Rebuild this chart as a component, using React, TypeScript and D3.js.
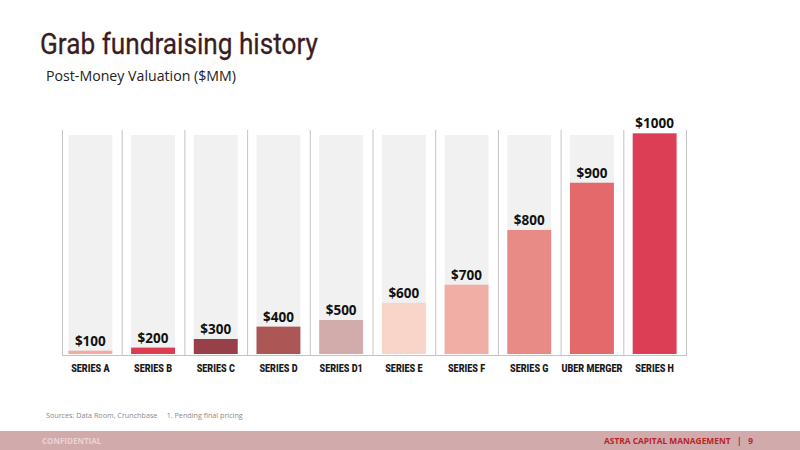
import React, { useRef, useEffect } from 'react';
import * as d3 from 'd3';

// categories and values
const categories = ['SERIES A', 'SERIES B', 'SERIES C', 'SERIES D', 'SERIES D1', 'SERIES E', 'SERIES F', 'SERIES G', 'UBER MERGER', 'SERIES H'];
const valuations = [15, 29, 68, 124, 154, 232, 314, 562, 776, 1000];
const valueLabels = ['$100', '$200', '$300', '$400', '$500', '$600', '$700', '$800', '$900', '$1000'];
const barColors = ['#f2aca3', '#dc3d50', '#98404a', '#ad5656', '#d2abab', '#f8d4c9', '#f1aea4', '#e88a85', '#e3696b', '#dc3f55'];
const trackValue = 992;

const W = 800;
const H = 450;

const App: React.FC = () => {
  const ref = useRef<SVGSVGElement | null>(null);

  useEffect(() => {
    if (!ref.current) return;
    const svg = d3.select(ref.current);
    svg.selectAll('*').remove();

    const x = d3.scaleBand<string>().domain(categories).range([59, 686]).paddingInner(0.3).paddingOuter(0.15);
    const y = d3.scaleLinear().domain([0, 1000]).range([354, 133.3]);
    const step = x.step();

    // title
    svg.append('text')
      .attr('x', 40).attr('y', 54)
      .attr('font-family', 'Roboto, sans-serif')
      .attr('font-size', 30)
      .attr('fill', '#3b1d1f')
      .attr('stroke', '#3b1d1f')
      .attr('stroke-width', 0.3)
      .attr('textLength', 278)
      .attr('lengthAdjust', 'spacingAndGlyphs')
      .text('Grab fundraising history');

    svg.append('text')
      .attr('x', 46).attr('y', 81)
      .attr('font-family', '"Open Sans", sans-serif')
      .attr('font-size', 14.5)
      .attr('fill', '#222')
      .attr('textLength', 190)
      .attr('lengthAdjust', 'spacingAndGlyphs')
      .text('Post-Money Valuation ($MM)');

    const g = svg.append('g');

    // separators
    g.selectAll('line.sep')
      .data(d3.range(categories.length + 1))
      .enter()
      .append('line')
      .attr('class', 'sep')
      .attr('x1', (i) => Math.max(62, 59 + i * step) + 0.5)
      .attr('x2', (i) => Math.max(62, 59 + i * step) + 0.5)
      .attr('y1', 130)
      .attr('y2', 356)
      .attr('stroke', '#c3c3c3')
      .attr('stroke-width', 1);

    // grey tracks
    g.selectAll('rect.track')
      .data(categories)
      .enter()
      .append('rect')
      .attr('class', 'track')
      .attr('x', (d) => x(d)!)
      .attr('width', x.bandwidth())
      .attr('y', y(trackValue))
      .attr('height', y(0) - y(trackValue))
      .attr('fill', '#f1f1f1');

    // bars
    g.selectAll('rect.bar')
      .data(valuations)
      .enter()
      .append('rect')
      .attr('class', 'bar')
      .attr('x', (_, i) => x(categories[i])!)
      .attr('width', x.bandwidth())
      .attr('y', (d) => y(d))
      .attr('height', (d) => y(0) - y(d))
      .attr('fill', (_, i) => barColors[i]);

    // baseline
    g.append('line')
      .attr('x1', 62).attr('x2', 686)
      .attr('y1', 355.5).attr('y2', 355.5)
      .attr('stroke', '#c3c3c3')
      .attr('stroke-width', 1);

    // value labels
    g.selectAll('text.val')
      .data(valuations)
      .enter()
      .append('text')
      .attr('class', 'val')
      .attr('x', (_, i) => x(categories[i])! + x.bandwidth() / 2)
      .attr('y', (d) => y(d) - 5)
      .attr('text-anchor', 'middle')
      .attr('font-family', '"Open Sans", sans-serif')
      .attr('font-weight', 700)
      .attr('font-size', 13.5)
      .attr('fill', '#111')
      .text((_, i) => valueLabels[i]);

    // category labels
    g.selectAll('text.cat')
      .data(categories)
      .enter()
      .append('text')
      .attr('class', 'cat')
      .attr('x', (d) => x(d)! + x.bandwidth() / 2)
      .attr('y', 372)
      .attr('text-anchor', 'middle')
      .attr('font-family', 'Roboto, sans-serif')
      .attr('font-weight', 900)
      .attr('font-size', 10.5)
      .attr('fill', '#1a1a1a')
      .attr('transform', (d) => {
        const cx = x(d)! + x.bandwidth() / 2;
        return `translate(${cx},0) scale(0.86,1) translate(${-cx},0)`;
      })
      .text((d) => d);

    // footnote
    svg.append('text')
      .attr('x', 46).attr('y', 418)
      .attr('font-family', '"Open Sans", sans-serif')
      .attr('font-size', 7.2)
      .attr('fill', '#8a8a8a')
      .style('white-space', 'pre')
      .text('Sources: Data Room, Crunchbase     1. Pending final pricing');

    // footer band
    svg.append('rect')
      .attr('x', 0).attr('y', 431)
      .attr('width', W).attr('height', H - 431)
      .attr('fill', '#d1abab');

    svg.append('text')
      .attr('x', 42).attr('y', 444)
      .attr('font-family', '"Open Sans", sans-serif')
      .attr('font-weight', 700)
      .attr('font-size', 8)
      .attr('fill', '#ebd3d3')
      .text('CONFIDENTIAL');

    svg.append('text')
      .attr('x', 753).attr('y', 443.5)
      .attr('text-anchor', 'end')
      .attr('font-family', '"Open Sans", sans-serif')
      .attr('font-weight', 700)
      .attr('font-size', 8.5)
      .attr('fill', '#b8232c')
      .attr('textLength', 149)
      .attr('lengthAdjust', 'spacingAndGlyphs')
      .style('white-space', 'pre')
      .text('ASTRA CAPITAL MANAGEMENT   |   9');
  }, []);

  return (
    <svg
      ref={ref}
      width={W}
      height={H}
      style={{ position: 'absolute', left: 0, top: 0, background: '#fff' }}
    />
  );
};

export default App;
